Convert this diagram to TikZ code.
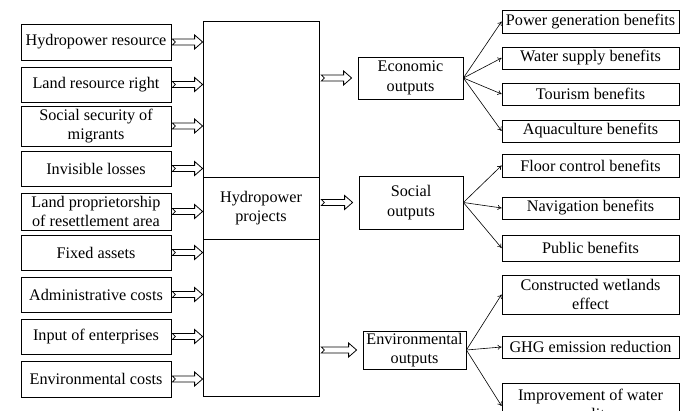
\documentclass[tikz,border=0pt]{standalone}
\usepackage{fontspec}
\setmainfont{Liberation Serif}
\usetikzlibrary{positioning,arrows.meta,calc}
\newcommand\hollowarrow[2]{\draw[dbl] let \p1=(#1), \p2=(#2) in (\x1,\y1+3pt) -- (\x2-8pt,\y1+3pt) -- (\x2-8pt,\y1+7pt) -- (\x2,\y1) -- (\x2-8pt,\y1-7pt) -- (\x2-8pt,\y1-3pt) -- (\x1,\y1-3pt) -- (\x1+3pt,\y1) -- cycle;}

\begin{document}
\begin{tikzpicture}[x=1pt,y=-1pt,font=\fontsize{16.2}{19.5}\selectfont,box/.style={draw, align=center, inner sep=0pt, line width=0.8pt},inbox/.style={box, minimum width=150pt},outbox/.style={box, minimum width=177pt},dbl/.style={line width=0.8pt, line join=miter},link/.style={line width=0.6pt, -{To[length=4pt,width=5pt]}}]
\useasboundingbox (0,0) rectangle (685,411);
\node[inbox, minimum height=36pt] (hr) at (96,42) {Hydropower resource};
\node[inbox, minimum height=35pt] (lrr) at (96,84.5) {Land resource right};
\node[inbox, minimum height=40pt] (ssm) at (96,126) {Social security of\\migrants};
\node[inbox, minimum height=35pt] (il) at (96,168.5) {Invisible losses};
\node[inbox, minimum height=37pt] (lpr) at (96,211.5) {Land proprietorship\\of resettlement area};
\node[inbox, minimum height=35pt] (fa) at (96,252.5) {Fixed assets};
\node[inbox, minimum height=35pt] (ac) at (96,294.5) {Administrative costs};
\node[inbox, minimum height=35pt] (ie) at (96,336.5) {Input of enterprises};
\node[inbox, minimum height=36pt] (ec) at (96,379) {Environmental costs};
\node[box, minimum width=116pt, minimum height=375pt] (proj) at (261,208.5) {};
\node[box, minimum width=116pt, minimum height=62pt] (core) at (261,208) {Hydropower\\projects};
\node[box, minimum width=105pt, minimum height=42pt] (eco) at (410.5,78) {Economic\\outputs};
\node[box, minimum width=104pt, minimum height=53pt] (soc) at (411,202.5) {Social\\outputs};
\node[box, minimum width=103pt, minimum height=38pt] (env) at (414.5,350) {Environmental\\outputs};
\node[outbox, minimum height=23pt] (pgb) at (590.5,21.5) {Power generation benefits};
\node[outbox, minimum height=22pt] (wsb) at (590.5,58) {Water supply benefits};
\node[outbox, minimum height=22pt] (tb) at (590.5,94) {Tourism benefits};
\node[outbox, minimum height=22pt] (ab) at (590.5,131) {Aquaculture benefits};
\node[outbox, minimum height=23pt] (fcb) at (590.5,165.5) {Floor control benefits};
\node[outbox, minimum height=22pt] (nb) at (590.5,208) {Navigation benefits};
\node[outbox, minimum height=26pt] (pb) at (590.5,248) {Public benefits};
\node[outbox, minimum height=39pt] (cwe) at (590.5,294.5) {Constructed wetlands\\effect};
\node[outbox, minimum height=22pt] (ger) at (590.5,347) {GHG emission reduction};
\node[outbox, minimum height=46pt] (iwq) at (590.5,406) {Improvement of water\\quality};
\foreach \b in {hr,lrr,ssm,il,lpr,fa,ac,ie,ec}
  {\hollowarrow{[xshift=1pt]\b.east}{\b.east -| proj.west}}
\foreach \b in {eco,soc,env}
  {\hollowarrow{[xshift=2pt]proj.east |- \b.west}{[xshift=-6pt]\b.west}}
\foreach \b in {pgb,wsb,tb,ab}
  \draw[link] (eco.east) -- (\b.west);
\foreach \b in {fcb,nb,pb}
  \draw[link] (soc.east) -- (\b.west);
\foreach \b in {cwe,ger,iwq}
  \draw[link] (env.east) -- (\b.west);
\end{tikzpicture}
\end{document}
